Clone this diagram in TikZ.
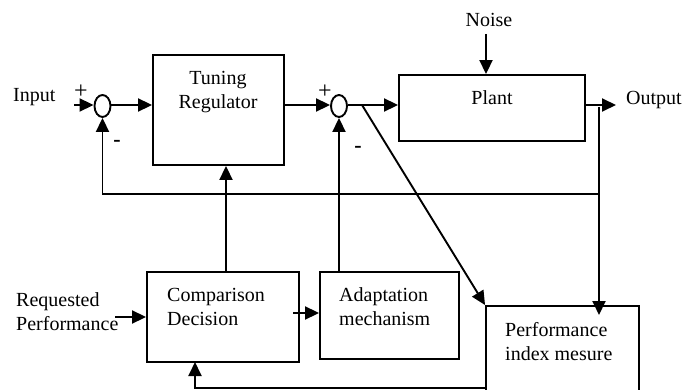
\documentclass[tikz,border=0pt]{standalone}
\usepackage{fontspec}
\setmainfont{Liberation Serif}
\usetikzlibrary{arrows.meta,shapes.geometric}
\begin{document}
\begin{tikzpicture}[x=1pt,y=-1pt,
 box/.style={draw,line width=1.9pt,inner sep=0pt},
 lbl/.style={font=\fontsize{20}{24}\selectfont,inner sep=0pt},
 sgn/.style={font=\fontsize{24}{24}\selectfont,inner sep=0pt},
 sum/.style={draw,ellipse,line width=1.9pt,minimum width=16pt,minimum height=22pt,inner sep=0pt},
 conn/.style={line width=1.9pt},
 arr/.style={conn,-{Triangle[length=14pt,width=13pt]}}]
\useasboundingbox (0,0) rectangle (698,390);
% boxes
\node[box,minimum width=131pt,minimum height=110pt] (tune) at (218.5,110) {};
\node[box,minimum width=186pt,minimum height=66pt] (plant) at (492,108) {};
\node[box,minimum width=152pt,minimum height=90pt] (comp) at (223,317) {};
\node[box,minimum width=139pt,minimum height=87pt] (adapt) at (389.5,315.5) {};
\node[box,minimum width=153pt,minimum height=89pt] (perf) at (562.5,350.5) {};
% summers
\node[sum] (s1) at (102.5,106) {};
\node[sum] (s2) at (339,106) {};
% texts (base anchor = baseline of last line)
\node[lbl,anchor=base,align=center] (tuneT) at (218,109) {Tuning\\Regulator};
\node[lbl,anchor=base] (plantT) at (492,105) {Plant};
\node[lbl,anchor=base west,align=left] (compT) at (167,325) {Comparison\\Decision};
\node[lbl,anchor=base west,align=left] (adaptT) at (339,325) {Adaptation\\mechanism};
\node[lbl,anchor=base west,align=left] (perfT) at (505,360) {Performance\\index mesure};
\node[lbl,anchor=base west,align=left] (req) at (16,330) {Requested\\Performance};
\node[lbl,anchor=base west] (inp) at (13,102) {Input};
\node[lbl,anchor=base west] (outp) at (626,105) {Output};
\node[lbl,anchor=base] (noise) at (489,27) {Noise};
\node[sgn] (p1) at (81,92) {+};
\node[sgn,font=\fontsize{22}{24}\selectfont\bfseries] (m1) at (117,143) {-};
\node[sgn] (p2) at (325,92) {+};
\node[sgn,font=\fontsize{22}{24}\selectfont\bfseries] (m2) at (358,149) {-};
% coordinates
\coordinate (in1) at (74,105);
\coordinate (nz) at (486,34);
\coordinate (o1) at (616,105);
\coordinate (br1) at (599,107);
\coordinate (pt1) at (599,315);
\coordinate (fb) at (599,194);
\coordinate (br2) at (362,105);
\coordinate (c1) at (226,272);
\coordinate (c3) at (293,313);
\coordinate (rq) at (115,317);
\coordinate (pb) at (486,388);
\coordinate (c2) at (195,362);
% connectors
\draw[arr] (in1) -- (in1 -| s1.west);
\draw[arr] (s1.east |- in1) -- (in1 -| tune.west);
\draw[arr] (in1 -| tune.east) -- (in1 -| s2.west);
\draw[arr] (in1 -| s2.east) -- (in1 -| plant.west);
\draw[arr] (nz) -- (nz |- plant.north);
\draw[arr] (o1 -| plant.east) -- (o1);
\draw[arr] (br1) -- (pt1);
\draw[arr] (fb) -| (s1.south);
\draw[arr] (br2) -- (perf.north west);
\draw[arr] (s2.south |- adapt.north) -- (s2.south);
\draw[arr] (c1) -- (c1 |- tune.south);
\draw[arr] (c3) -- (c3 -| adapt.west);
\draw[arr] (rq) -- (rq -| comp.west);
\draw[arr] (pb) -| (c2);
\end{tikzpicture}
\end{document}
